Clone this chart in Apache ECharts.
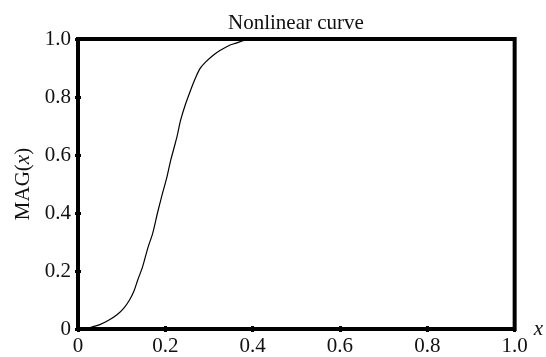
<!DOCTYPE html>
<html>
<head>
<meta charset="utf-8">
<script src="https://cdn.jsdelivr.net/npm/echarts@6/dist/echarts.min.js"></script>
<style>html,body{margin:0;padding:0;background:#fff;}#c{width:546px;height:357px;}</style>
</head>
<body>
<div id="c"></div>
<script>
const xValues = [0.013, 0.03, 0.05, 0.07, 0.09, 0.105, 0.118, 0.128, 0.137, 0.148, 0.16, 0.171, 0.182, 0.193, 0.203, 0.212, 0.22, 0.227, 0.235, 0.245, 0.257, 0.268, 0.279, 0.292, 0.309, 0.325, 0.345, 0.362, 0.38, 0.40, 0.5, 0.6, 0.7, 0.8, 0.9, 1.0];
const magValues = [0, 0.006, 0.015, 0.03, 0.05, 0.072, 0.10, 0.13, 0.17, 0.215, 0.28, 0.33, 0.40, 0.465, 0.52, 0.58, 0.625, 0.665, 0.72, 0.77, 0.82, 0.862, 0.897, 0.92, 0.943, 0.96, 0.977, 0.986, 0.995, 1.0, 1.0, 1.0, 1.0, 1.0, 1.0, 1.0];
const tickValues = [0, 0.2, 0.4, 0.6, 0.8, 1.0];
const titleText = 'Nonlinear curve';

const FONT = "'Liberation Serif', 'Times New Roman', serif";
const fmt = v => (Math.abs(v) < 1e-9 ? '0' : v.toFixed(1));
const chart = echarts.init(document.getElementById('c'), null, {renderer: 'canvas'});
const data = xValues.map((x, i) => [x, magValues[i]]);
const baseAxis = {
  type: 'value', min: tickValues[0], max: tickValues[tickValues.length - 1], interval: 0.2,
  axisLine: {show: false},
  axisTick: {show: true, inside: true, length: 3, lineStyle: {color: '#000', width: 3}},
  splitLine: {show: false}
};
chart.setOption({
  animation: false,
  backgroundColor: '#fff',
  title: {text: titleText, left: 228, top: 13, padding: 0,
    textStyle: {fontFamily: FONT, fontSize: 21, fontWeight: 'normal', color: '#111'}},
  grid: {left: 78, right: 22.5, top: 39, bottom: 23, show: true, borderColor: '#000', borderWidth: 4, backgroundColor: 'transparent'},
  xAxis: [
    Object.assign({}, baseAxis, {position: 'bottom',
      name: 'x', nameLocation: 'end', nameGap: 9,
      nameTextStyle: {fontFamily: FONT, fontSize: 21, fontStyle: 'italic', color: '#111'},
      axisLabel: {show: true, margin: 7, fontFamily: FONT, fontSize: 21, color: '#111', formatter: fmt}}),
    Object.assign({}, baseAxis, {position: 'top', axisLabel: {show: false}})
  ],
  yAxis: [
    Object.assign({}, baseAxis, {position: 'left',
      name: '{n|MAG(}{i|x}{n|)}', nameLocation: 'middle', nameGap: 44,
      nameTextStyle: {rich: {n: {fontFamily: FONT, fontSize: 21, color: '#111'}, i: {fontFamily: FONT, fontSize: 21, fontStyle: 'italic', color: '#111'}}},
      axisLabel: {show: true, margin: 7, fontFamily: FONT, fontSize: 21, color: '#111', formatter: fmt}}),
    Object.assign({}, baseAxis, {position: 'right', axisLabel: {show: false}})
  ],
  series: [{
    type: 'line', data: data, showSymbol: false, smooth: 0.3,
    lineStyle: {color: '#000', width: 1.2}, clip: true
  }]
});
</script>
</body>
</html>
